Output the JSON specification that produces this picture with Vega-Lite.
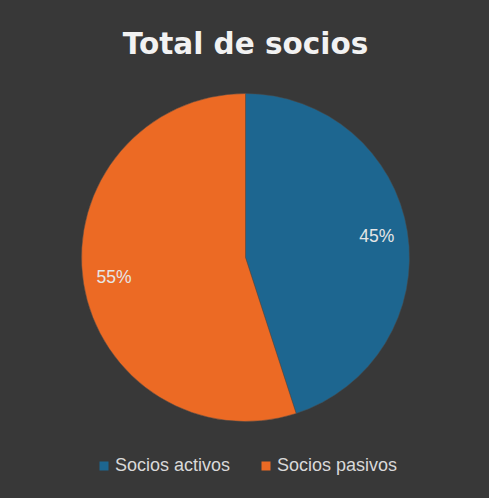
{
  "$schema": "https://vega.github.io/schema/vega-lite/v6.json",
  "width": 489,
  "height": 498,
  "autosize": {"type": "fit", "contains": "padding"},
  "padding": {"top": 29, "bottom": 61, "left": 2, "right": 0},
  "background": "#383838",
  "title": {
    "text": "Total de socios",
    "font": "DejaVu Sans",
    "fontSize": 29.5,
    "fontWeight": "bold",
    "color": "#f2f2f2",
    "anchor": "middle",
    "offset": 18
  },
  "data": {
    "values": [
      {"categoria": "Socios activos", "valor": 45, "orden": 1, "etiqueta": "45%"},
      {"categoria": "Socios pasivos", "valor": 55, "orden": 2, "etiqueta": "55%"}
    ]
  },
  "encoding": {
    "theta": {"field": "valor", "type": "quantitative", "stack": true},
    "order": {"field": "orden", "type": "quantitative"},
    "color": {
      "field": "categoria",
      "type": "nominal",
      "scale": {"domain": ["Socios activos", "Socios pasivos"], "range": ["#1d6690", "#ec6a24"]},
      "legend": {
        "title": null,
        "orient": "none",
        "legendX": 93,
        "legendY": 379,
        "direction": "horizontal",
        "symbolType": "square",
        "symbolSize": 81,
        "symbolStrokeWidth": 0,
        "labelFont": "Liberation Sans",
        "labelFontSize": 18,
        "labelColor": "#d9d9d9",
        "labelOffset": 2,
        "columnPadding": 26
      }
    }
  },
  "layer": [
    {"mark": {"type": "arc", "radius": 164, "stroke": "#4a4a4a", "strokeWidth": 0.5}},
    {
      "mark": {"type": "text", "radius": 133, "font": "Liberation Sans", "fontSize": 17.5},
      "encoding": {
        "text": {"field": "etiqueta", "type": "nominal"},
        "color": {"value": "#e6e6e6"}
      }
    }
  ],
  "config": {"view": {"stroke": null}}
}
